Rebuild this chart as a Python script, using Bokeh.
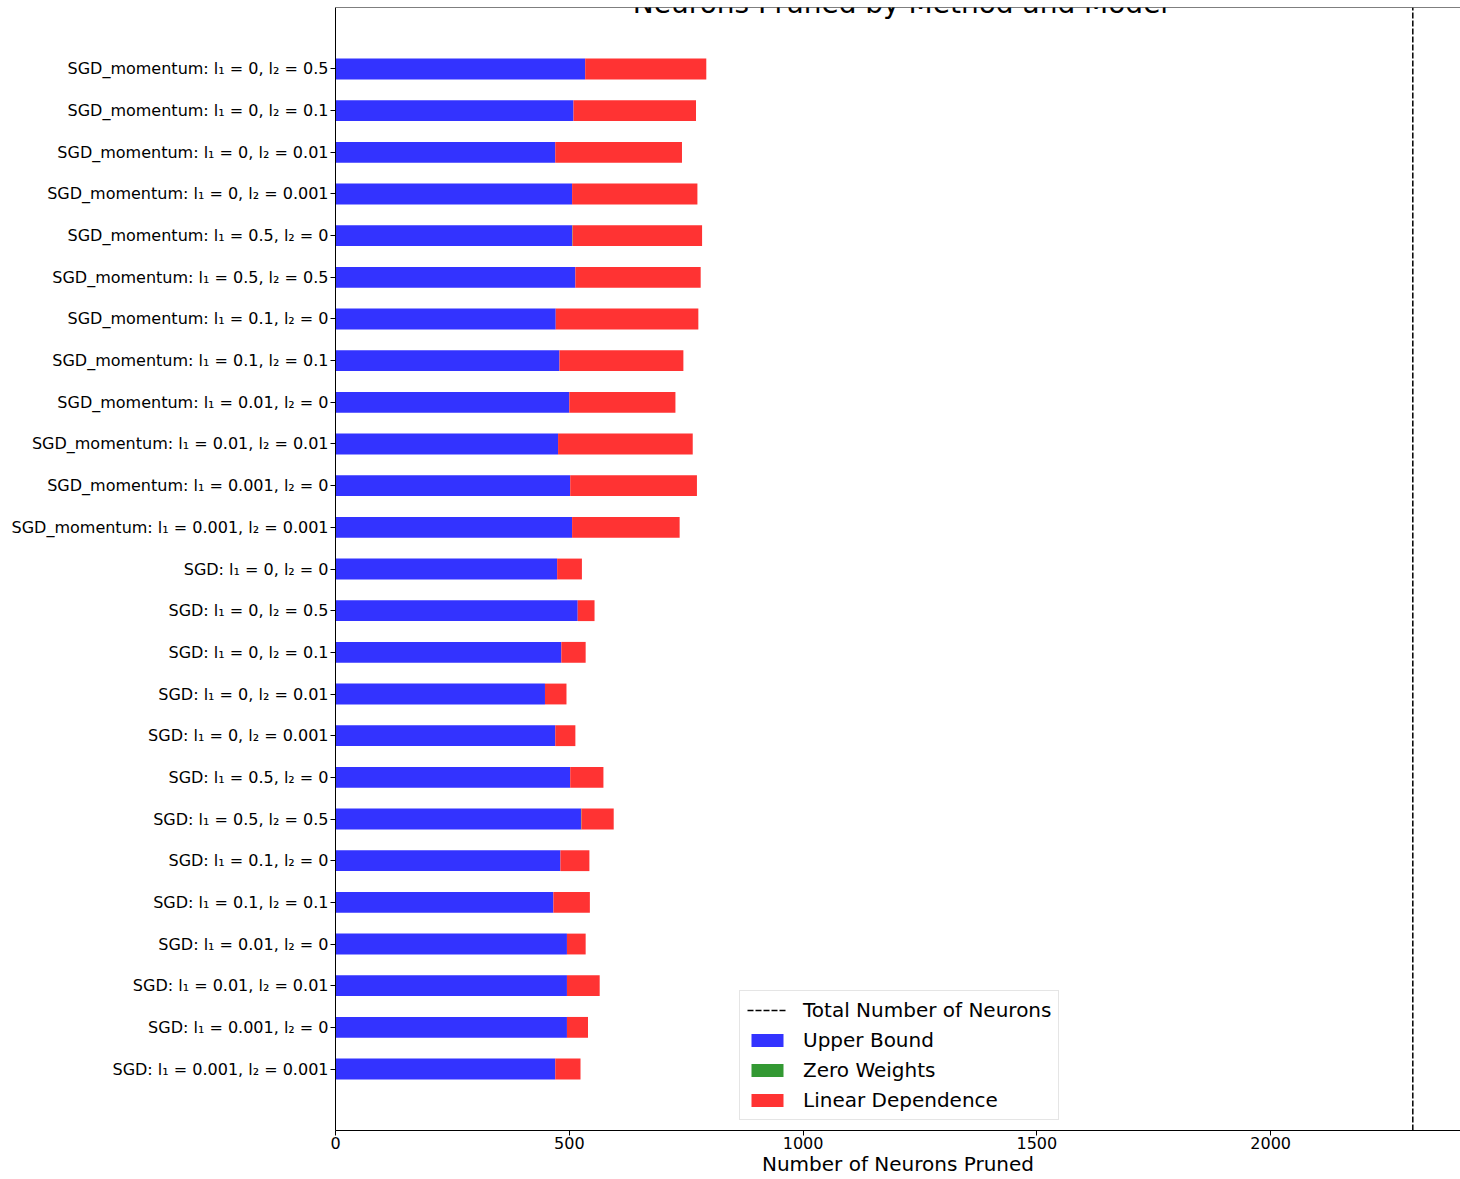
from bokeh.plotting import figure
from bokeh.models import (ColumnDataSource, Range1d, FixedTicker, Legend, LegendItem, Label, Span)
from bokeh.embed import file_html
from bokeh.resources import INLINE

# ---- data (top to bottom as shown) ----
methods = ["SGD_momentum"] * 12 + ["SGD"] * 13
l1_values = ["0", "0", "0", "0", "0.5", "0.5", "0.1", "0.1", "0.01", "0.01", "0.001", "0.001",
             "0", "0", "0", "0", "0", "0.5", "0.5", "0.1", "0.1", "0.01", "0.01", "0.001", "0.001"]
l2_values = ["0.5", "0.1", "0.01", "0.001", "0", "0.5", "0", "0.1", "0", "0.01", "0", "0.001",
             "0", "0.5", "0.1", "0.01", "0.001", "0", "0.5", "0", "0.1", "0", "0.01", "0", "0.001"]
upper_bound = [534, 509, 470, 506, 506, 513, 471, 479, 500, 476, 502, 506,
               474, 518, 483, 448, 470, 502, 525, 481, 466, 495, 495, 495, 470]
zero_weights = [0, 0, 0, 0, 1, 0, 0, 0, 0, 0, 0, 0,
                0, 0, 0, 0, 0, 0, 1, 0, 0, 0, 0, 0, 0]
linear_dependence = [259, 262, 271, 268, 277, 268, 305, 265, 227, 288, 271, 230,
                     53, 36, 52, 46, 43, 71, 69, 62, 78, 40, 70, 45, 54]
total_neurons = 2304

labels = [f"{m}: l\u2081 = {a}, l\u2082 = {b}" for m, a, b in zip(methods, l1_values, l2_values)]
n = len(labels)
ypos = [n - 1 - i for i in range(n)]

src = ColumnDataSource(dict(y=ypos, upper=upper_bound, zero=zero_weights, linear=linear_dependence))

y_start, y_end = -1.475, n - 1 + 1.475
FONT = "DejaVu Sans"

p = figure(width=1460, height=1179, output_backend="svg", toolbar_location=None,
           x_range=Range1d(0, 2406), y_range=Range1d(y_start, y_end),
           min_border_left=335, min_border_top=7, min_border_right=0, min_border_bottom=49,
           background_fill_color="white", border_fill_color="white")
p.outline_line_color = None
p.xgrid.visible = False
p.ygrid.visible = False
p.add_layout(Span(location=y_end, dimension="width", line_color="black", line_width=1))

colors = ["#3333ff", "#339933", "#ff3333"]
bars = p.hbar_stack(["upper", "zero", "linear"], y="y", height=0.5, color=colors,
                    line_color=None, source=src)

total_line = p.segment(x0=[total_neurons], y0=[y_start], x1=[total_neurons], y1=[y_end],
                       line_color="black", line_width=1.5, line_dash="6 2")

# axes
p.yaxis.ticker = FixedTicker(ticks=ypos)
p.yaxis.major_label_overrides = {y: lab for y, lab in zip(ypos, labels)}
p.xaxis.ticker = FixedTicker(ticks=[0, 500, 1000, 1500, 2000])
for ax in (p.xaxis[0], p.yaxis[0]):
    ax.major_tick_in = 0
    ax.major_tick_out = 5
    ax.minor_tick_line_color = None
    ax.major_label_text_font = FONT
    ax.major_label_text_font_size = "16px"
    ax.major_label_text_color = "black"
    ax.axis_line_color = "black"
    ax.major_tick_line_color = "black"
p.yaxis.major_label_standoff = 2
p.xaxis.major_label_standoff = 1
p.xaxis.axis_label = "Number of Neurons Pruned"
p.xaxis.axis_label_text_font = FONT
p.xaxis.axis_label_text_font_size = "20px"
p.xaxis.axis_label_text_font_style = "normal"
p.xaxis.axis_label_text_color = "black"
p.xaxis.axis_label_standoff = 0

legend = Legend(items=[
    LegendItem(label="Total Number of Neurons", renderers=[total_line]),
    LegendItem(label="Upper Bound", renderers=[bars[0]]),
    LegendItem(label="Zero Weights", renderers=[bars[1]]),
    LegendItem(label="Linear Dependence", renderers=[bars[2]]),
], location=(404, 10))
legend.label_text_font = FONT
legend.label_text_font_size = "20px"
legend.label_text_color = "black"
legend.glyph_width = 40
legend.glyph_height = 16
legend.label_height = 22
legend.label_standoff = 16
legend.spacing = 6
legend.padding = 7
legend.margin = 0
legend.border_line_color = "#cccccc"
legend.border_line_width = 1
legend.background_fill_alpha = 0.8
p.add_layout(legend)

title = Label(x=565, y=1127, x_units="screen", y_units="screen",
              text="Neurons Pruned by Method and Model", text_font=FONT,
              text_font_size="28px", text_align="center", text_baseline="alphabetic",
              text_color="black")
p.add_layout(title)

open("out.html", "w").write(file_html(p, INLINE))
